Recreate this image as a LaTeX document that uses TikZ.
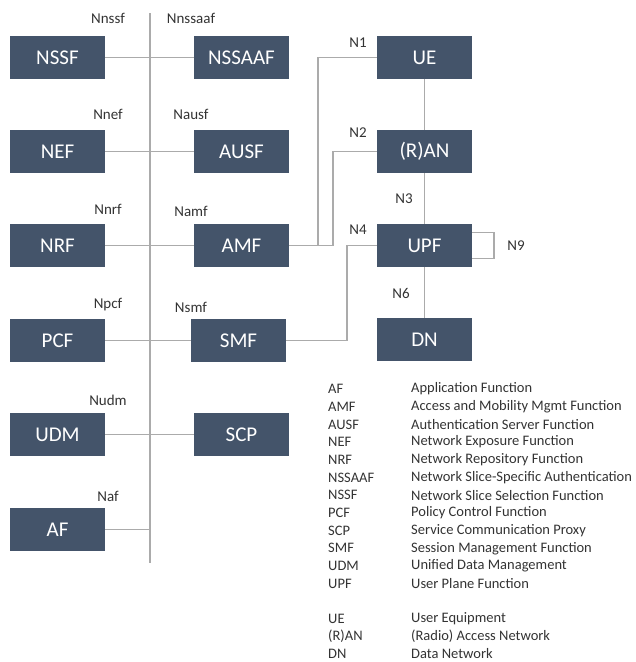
\documentclass[tikz,border=0pt]{standalone}
\usepackage{fontspec}
\setmainfont{Carlito}
\begin{document}
\begin{tikzpicture}[x=1pt,y=-1pt,
  nf/.style={draw=none,fill=boxblue,text=white,minimum width=95pt,minimum height=43pt,inner sep=0pt,font=\fontsize{21}{24}\selectfont},
  link/.style={draw=linkgray,line width=1.6pt},
  iface/.style={text=labelgray,font=\fontsize{15}{17}\selectfont,inner sep=0pt},
  legend/.style={text=labelgray,font=\fontsize{14.5}{17}\selectfont,inner sep=0pt,anchor=west}]
\definecolor{boxblue}{HTML}{44546A}
\definecolor{linkgray}{HTML}{ABABAB}
\definecolor{labelgray}{HTML}{333333}
\useasboundingbox (0,0) rectangle (636,662);

% service-based bus
\coordinate (busTop) at (150,13);
\coordinate (busBot) at (150,563);
\draw[link] (busTop) -- (busBot);

% network functions, left column
\node[nf] (NSSF) at (57.5,57.5) {NSSF};
\node[nf] (NEF)  at (57.5,151.5) {NEF};
\node[nf] (NRF)  at (57.5,245.5) {NRF};
\node[nf] (PCF)  at (57.5,340.5) {PCF};
\node[nf] (UDM)  at (57.5,434.5) {UDM};
\node[nf] (AF)   at (57.5,529.5) {AF};

% network functions, right of the bus
\node[nf] (NSSAAF) at (241.5,57.5) {NSSAAF};
\node[nf] (AUSF)   at (241.5,151.5) {AUSF};
\node[nf] (AMF)    at (241.5,245.5) {AMF};
\node[nf] (SMF)    at (238.5,340.5) {SMF};
\node[nf] (SCP)    at (241.5,434.5) {SCP};

% user plane
\node[nf] (UE)  at (424.5,57.5) {UE};
\node[nf] (RAN) at (424.5,151.5) {(R)AN};
\node[nf] (UPF) at (424.5,245.5) {UPF};
\node[nf] (DN)  at (424.5,339.5) {DN};

% attachments to the bus
\draw[link] (NSSF.east) -- (NSSAAF.west);
\draw[link] (NEF.east) -- (AUSF.west);
\draw[link] (NRF.east) -- (AMF.west);
\draw[link] (PCF.east) -- (SMF.west);
\draw[link] (UDM.east) -- (SCP.west);
\draw[link] (AF.east) -- (AF.east -| busBot);

% reference points
\draw[link] (UE.west) -- ++(-59,0) |- (AMF.east);
\draw[link] (RAN.west) -- ++(-44,0) |- (AMF.east);
\draw[link] (UPF.west) -- ++(-30,0) |- (SMF.east);
\draw[link] (UE.south) -- (RAN.north);
\draw[link] (RAN.south) -- (UPF.north);
\draw[link] (UPF.south) -- (DN.north);
\draw[link] ([yshift=13pt]UPF.east) -- ++(22,0) |- ([yshift=-13pt]UPF.east);

% interface labels
\node[iface] (lNnssf)   at (108,18)  {Nnssf};
\node[iface] (lNnssaaf) at (191,18)  {Nnssaaf};
\node[iface] (lNnef)    at (108,114) {Nnef};
\node[iface] (lNausf)   at (191,114) {Nausf};
\node[iface] (lNnrf)    at (108,209) {Nnrf};
\node[iface] (lNamf)    at (191,211) {Namf};
\node[iface] (lNpcf)    at (108,305) {Npcf};
\node[iface] (lNsmf)    at (191,307) {Nsmf};
\node[iface] (lNudm)    at (108,400) {Nudm};
\node[iface] (lNaf)     at (108,496) {Naf};
\node[iface] (lN1) at (358,43)  {N1};
\node[iface] (lN2) at (358,133) {N2};
\node[iface] (lN3) at (404,199) {N3};
\node[iface] (lN4) at (358,230) {N4};
\node[iface] (lN6) at (401,293) {N6};
\node[iface] (lN9) at (516,246) {N9};

% abbreviation list
\foreach \abbr/\full [count=\i from 0] in {
  AF/Application Function,
  AMF/Access and Mobility Mgmt Function,
  AUSF/Authentication Server Function,
  NEF/Network Exposure Function,
  NRF/Network Repository Function,
  NSSAAF/Network Slice-Specific Authentication,
  NSSF/Network Slice Selection Function,
  PCF/Policy Control Function,
  SCP/Service Communication Proxy,
  SMF/Session Management Function,
  UDM/Unified Data Management,
  UPF/User Plane Function}{
  \node[legend] (ab\i) at (328,389+17.7*\i) {\abbr};
  \node[legend] (fu\i) at (411,389+17.7*\i) {\full};
}
\foreach \abbr/\full [count=\i from 0] in {
  UE/User Equipment,
  (R)AN/(Radio) Access Network,
  DN/Data Network}{
  \node[legend] (ub\i) at (328,618.4+17.7*\i) {\abbr};
  \node[legend] (uf\i) at (411,618.4+17.7*\i) {\full};
}
\end{tikzpicture}
\end{document}
